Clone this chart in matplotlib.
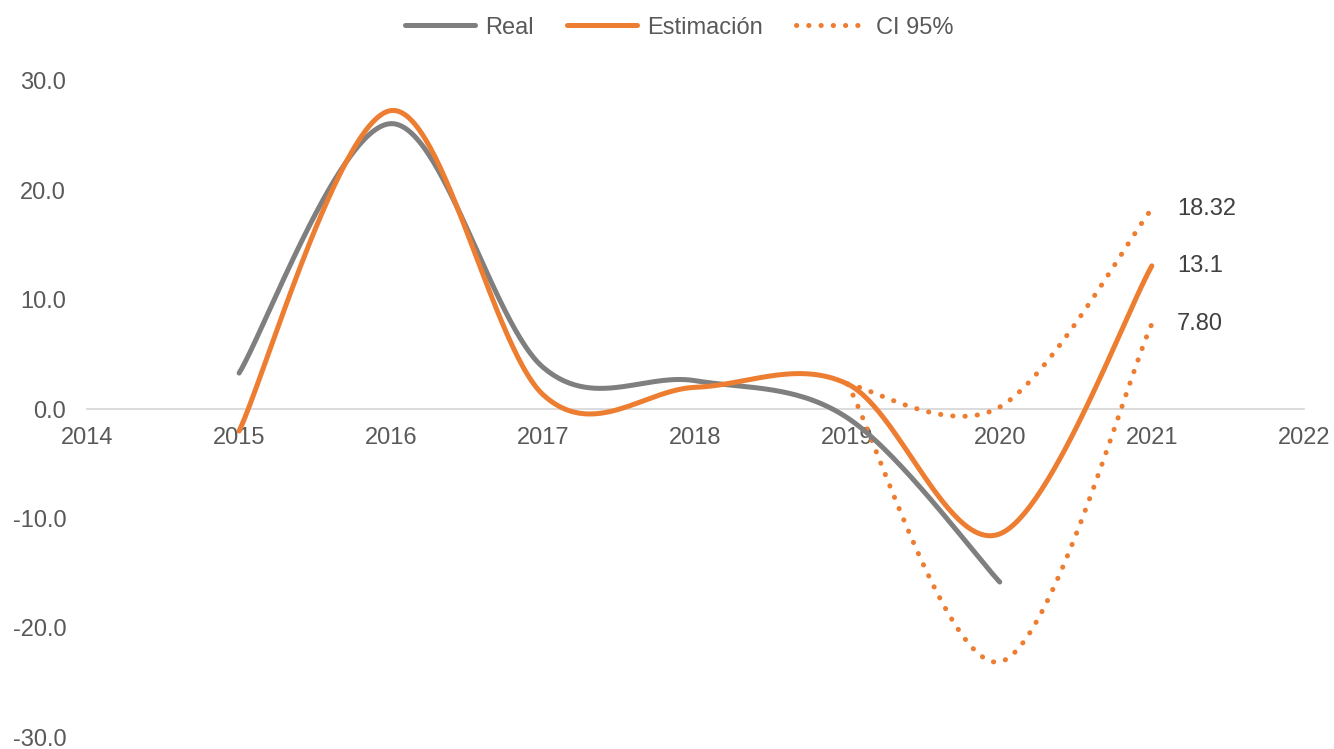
import numpy as np
import matplotlib
matplotlib.use("Agg")
import matplotlib.pyplot as plt
from matplotlib.lines import Line2D

plt.rcParams['font.family'] = ['Liberation Sans', 'DejaVu Sans']

years_real = [2015, 2016, 2017, 2018, 2019, 2020]
real = [3.3, 26.1, 3.8, 2.6, -0.8, -15.8]

years_est = [2015, 2016, 2017, 2018, 2019, 2020, 2021]
estimacion = [-2.0, 27.3, 1.3, 2.0, 2.3, -11.4, 13.1]

years_ci = [2019, 2020, 2021]
ci_upper = [2.3, 0.2, 18.32]
ci_lower = [2.3, -23.1, 7.80]

labels_end = ["18.32", "13.1", "7.80"]
xticks = list(range(2014, 2023))
yticks = [-30, -20, -10, 0, 10, 20, 30]

GRAY = "#7F7F7F"
ORANGE = "#ED7D31"
TEXT = "#595959"


def smooth(xs, ys, n=60):
    xs = np.asarray(xs, float)
    ys = np.asarray(ys, float)
    P = np.column_stack([xs, ys])
    m = len(P)
    out = []
    for i in range(m - 1):
        p0 = P[i - 1] if i > 0 else P[i]
        p1 = P[i]
        p2 = P[i + 1]
        p3 = P[i + 2] if i + 2 < m else P[i + 1]
        c1 = p1 + (p2 - p0) / 6.0
        c2 = p2 - (p3 - p1) / 6.0
        t = np.linspace(0, 1, n)[:, None]
        seg = ((1 - t) ** 3) * p1 + 3 * ((1 - t) ** 2) * t * c1 + 3 * (1 - t) * t ** 2 * c2 + t ** 3 * p2
        if i > 0:
            seg = seg[1:]
        out.append(seg)
    pts = np.vstack(out)
    return pts[:, 0], pts[:, 1]


fig = plt.figure(figsize=(13.34, 7.49), dpi=100)
ax = fig.add_axes([0.0652, 0.0155, 0.9123, 0.8764])

lw = 3.6
x, y = smooth(years_real, real)
ax.plot(x, y, color=GRAY, lw=lw, solid_capstyle='round', zorder=3)
x, y = smooth(years_est, estimacion)
ax.plot(x, y, color=ORANGE, lw=lw, solid_capstyle='round', zorder=4)
dot = (0, (0.05, 2.4))
x, y = smooth(years_ci, ci_upper)
ax.plot(x, y, color=ORANGE, lw=lw, linestyle=dot, dash_capstyle='round', zorder=2)
x, y = smooth(years_ci, ci_lower)
ax.plot(x, y, color=ORANGE, lw=lw, linestyle=dot, dash_capstyle='round', zorder=2)

for val, lab in zip([ci_upper[-1], estimacion[-1], ci_lower[-1]], labels_end):
    ax.annotate(lab, xy=(years_ci[-1], val), xytext=(18, 0), textcoords='offset points',
                ha='left', va='center', fontsize=17, color="#404040")

ax.set_xlim(2014, 2022)
ax.set_ylim(-30, 30)
ax.set_xticks(xticks)
ax.set_yticks(yticks)
ax.set_yticklabels([f"{v:.1f}" for v in yticks])
ax.set_xticklabels([str(v) for v in xticks])
for s in ['top', 'right', 'left']:
    ax.spines[s].set_visible(False)
ax.spines['bottom'].set_position(('data', 0))
ax.spines['bottom'].set_color("#D9D9D9")
ax.spines['bottom'].set_linewidth(1.3)
ax.spines['bottom'].set_zorder(1)
ax.tick_params(axis='x', length=0, pad=13, labelsize=17, colors=TEXT)
ax.tick_params(axis='y', length=0, pad=15, labelsize=17, colors=TEXT)

handles = [
    Line2D([0], [0], color=GRAY, lw=lw, solid_capstyle='round'),
    Line2D([0], [0], color=ORANGE, lw=lw, solid_capstyle='round'),
    Line2D([0], [0], color=ORANGE, lw=lw, linestyle=dot, dash_capstyle='round'),
]
fig.legend(handles, ["Real", "Estimación", "CI 95%"], loc='center', bbox_to_anchor=(0.509, 0.963),
           ncol=3, frameon=False, fontsize=17, labelcolor=TEXT, handlelength=3.0,
           handletextpad=0.4, columnspacing=1.4)

fig.savefig("out.png", dpi=100)
